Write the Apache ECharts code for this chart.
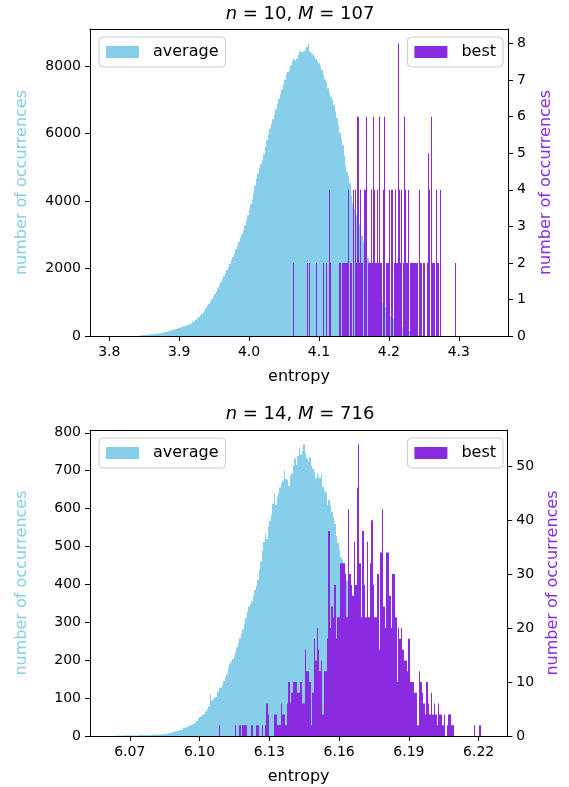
<!DOCTYPE html>
<html><head><meta charset="utf-8">
<script src="https://cdn.jsdelivr.net/npm/echarts@6/dist/echarts.min.js"></script>
<style>html,body{margin:0;padding:0;background:#fff}#c{width:569px;height:787px}</style>
</head><body><div id="c"></div>
<script>
const FONT = 'DejaVu Sans';
const SKY = '#87CEEB', VIOLET = '#8A2BE2';

// ---------- top panel (n = 10, M = 107) ----------
const topTitleN = '10', topTitleM = '107';
const topXTicks = [3.8, 3.9, 4.0, 4.1, 4.2, 4.3];
const topXRange = [3.7724, 4.3704];
const topLeftTicks = [0, 2000, 4000, 6000, 8000];
const topRightTicks = [0, 1, 2, 3, 4, 5, 6, 7, 8];
const avgTopStart = 3.84207, avgTopWidth = 0.0021234;
const avgTopCounts = [8,18,24,28,32,36,40,45,50,55,60,65,70,75,81,91,102,112,122,132,143,155,170,185,199,213,228,243,258,273,287,302,316,330,345,378,412,445,478,518,560,605,650,696,763,830,896,958,1027,1099,1172,1245,1320,1413,1506,1600,1690,1781,1870,1958,2046,2137,2241,2351,2462,2573,2683,2793,2904,3014,3130,3280,3430,3580,3730,3900,4050,4235,4450,4660,4820,4980,5090,5205,5385,5600,5800,5980,6150,6290,6420,6560,6715,6880,7030,7170,7300,7450,7590,7745,7820,7885,8020,8135,8198,8150,8220,8330,8445,8420,8400,8440,8480,8560,8663,8430,8380,8340,8280,8210,8140,8080,7990,7880,7730,7600,7500,7340,7200,7090,7000,6850,6650,6460,6240,6030,5840,5650,5340,5060,4860,4730,4530,4160,3930,3760,3580,3430,3310,3150,2970,2790,2610,2450,2320,2190,1980,1800,1690,1560,1430,1300,1170,1080,990,930,860,760,660,580,550,510,480,445,380,315,280,255,235,210,195,170,145,123,100,82,61,47,40,33,26,19,12,6];
const bestTopStart = 4.0629, bestTopWidth = 0.0014286;
const bestTopCounts = [
 2,0,0,0,0,0,0,0,0,0, 0,0,0,0,2,0,2,0,0,0, 0,0,0,2,0,0,0,0,0,0,
 2,0,0,2,0,0,4,2,0,0, 0,0,0,0,0,0,2,2,0,2, 2,2,2,2,2,4,0,2,2,0,
 4,0,4,2,6,6,2,4,2,2, 0,4,4,6,0,2,2,2,4,2, 6,4,2,2,4,2,6,2,2,0,
 4,6,0,2,2,2,4,0,4,4, 0,2,4,2,2,8,4,2,4,0, 2,6,4,2,2,4,0,2,2,2,
 2,2,2,2,2,0,4,2,2,0, 2,2,0,0,2,5,4,0,6,2, 2,2,0,4,2,2,0,4,0,0,
 0,0,0,0,0,0,0,0,0,0, 0,0,2];

// ---------- bottom panel (n = 14, M = 716) ----------
const botTitleN = '14', botTitleM = '716';
const botXTicks = [6.07, 6.10, 6.13, 6.16, 6.19, 6.22];
const botXRange = [6.0529, 6.2323];
const botLeftTicks = [0, 100, 200, 300, 400, 500, 600, 700, 800];
const botRightTicks = [0, 10, 20, 30, 40, 50];
const avgBotStart = 6.063648, avgBotWidth = 0.000637;
const avgBotCounts = [
 1,0,1,1,0,1,1,1,2,1, 2,1,2,2,1,2,2,3,2,2, 3,2,3,2,3,4,3,3,3,4,
 3,5,4,5,6,6,7,8,9,11, 12,12,13,14,16,18,21,21,24,25, 27,29,31,34,35,40,46,50,52,56,
 58,65,72,78,109,94,99,101,103,116, 128,127,134,145,155,162,180,191,197,203,
 210,222,234,246,258,270,282,297,312,327, 342,348,355,370,385,396,411,440,460,488,
 512,535,520,553,568,583,613,640,610,632, 642,656,666,674,700,678,676,660,686,692,
 715,732,715,738,760,743,752,769,748,733, 724,735,714,706,698,680,693,686,680,690,
 657,647,643,610,622,608,592,576,560,527, 510,490,472,465,457,430,410,394,380,362,
 345,328,313,298,283,272,260,247,235,223, 211,199,187,175,164,152,140,128,118,110,
 103,95,88,80,73,66,60,54,49,45, 40,35,32,29,26,24,21,18,16,14, 12,10,9,8,7,6,5,4,3,2,2,1];
const bestBotStart = 6.108238, bestBotWidth = 0.000637;
const bestBotCounts = [
 2,0,0,0,0,0,0,0,0,0, 0,2,0,0,2,0,2,2,2,0, 0,0,2,0,0,2,2,0,0,2,
 0,2,6,4,0,0,0,4,4,2, 2,2,6,4,4,2,6,10,6,8, 10,10,10,8,8,10,6,6,16,12,
 12,10,2,8,18,14,20,16,12,14, 4,12,12,18,38,20,24,22,28,18, 22,22,32,32,32,30,22,42,30,28,
 26,36,28,46,54,32,22,38,28,22, 36,22,32,40,28,22,22,30,16,34, 42,24,20,34,34,26,20,30,30,22,
 10,20,18,20,16,14,14,12,18,10, 10,10,8,8,2,12,10,8,6,4, 10,6,4,8,4,6,4,2,6,4,
 4,2,4,0,2,4,4,2,2,0, 0,0,0,0,0,0,0,0,0,0, 0,0,2,0,0,0,2];

// ---------- build ----------
function bins(start, width, counts) {
  return counts.map((c, i) => [start + i * width, start + (i + 1) * width, c]);
}
function histRender(params, api) {
  const y = api.value(2);
  if (!y) return null;
  const p0 = api.coord([api.value(0), y]);
  const p1 = api.coord([api.value(1), 0]);
  let l = Math.round(p0[0]), r = Math.round(p1[0]);
  if (r <= l) r = l + 1;
  return { type: 'rect', shape: { x: l, y: p0[1], width: r - l, height: p1[1] - p0[1] },
           style: { fill: api.visual('color') } };
}
const tickStyle = { show: true, length: 5, inside: false, lineStyle: { color: '#000', width: 1 } };
const lineStyle = { show: true, onZero: false, lineStyle: { color: '#000', width: 1 } };
const labelStyle = { color: '#000', fontFamily: FONT, fontSize: 14 };

function xAxes(grid, range, ticks, digits) {
  return [
    { type: 'value', gridIndex: grid, position: 'bottom', min: range[0], max: range[1], z: 10,
      axisLine: lineStyle, axisTick: Object.assign({ customValues: ticks }, tickStyle),
      axisLabel: Object.assign({ customValues: ticks, margin: 9, formatter: v => v.toFixed(digits) }, labelStyle),
      splitLine: { show: false },
      name: 'entropy', nameLocation: 'middle', nameGap: 33,
      nameTextStyle: { color: '#000', fontFamily: FONT, fontSize: 16 } },
    { type: 'value', gridIndex: grid, position: 'top', min: range[0], max: range[1], z: 10,
      axisLine: lineStyle, axisTick: { show: false }, axisLabel: { show: false }, splitLine: { show: false } }
  ];
}
function yAxes(grid, lmax, lticks, rmax, rticks) {
  return [
    { type: 'value', gridIndex: grid, position: 'left', min: 0, max: lmax, z: 10,
      axisLine: lineStyle, axisTick: Object.assign({ customValues: lticks }, tickStyle),
      axisLabel: Object.assign({ customValues: lticks, margin: 9, formatter: v => String(v) }, labelStyle),
      splitLine: { show: false },
      name: 'number of occurrences', nameLocation: 'middle', nameGap: 60, nameRotate: 90,
      nameTextStyle: { color: SKY, fontFamily: FONT, fontSize: 16 } },
    { type: 'value', gridIndex: grid, position: 'right', min: 0, max: rmax, z: 10,
      axisLine: lineStyle, axisTick: Object.assign({ customValues: rticks }, tickStyle),
      axisLabel: Object.assign({ customValues: rticks, margin: 9, formatter: v => String(v) }, labelStyle),
      splitLine: { show: false },
      name: 'number of occurrences', nameLocation: 'middle', nameGap: 30, nameRotate: 90,
      nameTextStyle: { color: VIOLET, fontFamily: FONT, fontSize: 16 } }
  ];
}
const legendBase = {
  orient: 'horizontal', icon: 'rect', itemWidth: 33, itemHeight: 12, selectedMode: false,
  padding: [7, 7, 7, 7], backgroundColor: 'rgba(255,255,255,0.8)', borderColor: '#cccccc',
  borderWidth: 1, borderRadius: 4, z: 20,
  textStyle: { color: '#000', fontFamily: FONT, fontSize: 16, padding: [0, 0, 0, 9] }
};
function title(n, M, y) {
  return { type: 'text', x: 300, y: y, z: 30,
    style: { text: '{i|n} = ' + n + ', {i|M} = ' + M, fontFamily: FONT, fontSize: 18, fill: '#000',
      align: 'center', verticalAlign: 'middle',
      rich: { i: { fontStyle: 'italic', fontFamily: FONT, fontSize: 18, fill: '#000' } } } };
}
const maxOf = a => Math.max.apply(null, a) * 1.05;

const chart = echarts.init(document.getElementById('c'), null, { renderer: 'canvas' });
chart.setOption({
  animation: false,
  backgroundColor: '#fff',
  grid: [
    { left: 90, right: 61, top: 29, height: 307 },
    { left: 90, right: 61, top: 430, height: 306 }
  ],
  xAxis: [].concat(xAxes(0, topXRange, topXTicks, 1), xAxes(1, botXRange, botXTicks, 2)),
  yAxis: [].concat(
    yAxes(0, maxOf(avgTopCounts), topLeftTicks, maxOf(bestTopCounts), topRightTicks),
    yAxes(1, maxOf(avgBotCounts), botLeftTicks, maxOf(bestBotCounts), botRightTicks)),
  legend: [
    Object.assign({ data: ['average'], left: 99, top: 37 }, legendBase),
    Object.assign({ data: ['best'], right: 66, top: 37 }, legendBase),
    Object.assign({ data: ['average'], left: 99, top: 438 }, legendBase),
    Object.assign({ data: ['best'], right: 66, top: 438 }, legendBase)
  ],
  graphic: [title(topTitleN, topTitleM, 14), title(botTitleN, botTitleM, 414)],
  series: [
    { type: 'custom', name: 'average', xAxisIndex: 0, yAxisIndex: 0, z: 2, itemStyle: { color: SKY },
      renderItem: histRender, encode: { x: [0, 1], y: 2 }, data: bins(avgTopStart, avgTopWidth, avgTopCounts) },
    { type: 'custom', name: 'best', xAxisIndex: 0, yAxisIndex: 1, z: 3, itemStyle: { color: VIOLET },
      renderItem: histRender, encode: { x: [0, 1], y: 2 }, data: bins(bestTopStart, bestTopWidth, bestTopCounts) },
    { type: 'custom', name: 'average', xAxisIndex: 2, yAxisIndex: 2, z: 2, itemStyle: { color: SKY },
      renderItem: histRender, encode: { x: [0, 1], y: 2 }, data: bins(avgBotStart, avgBotWidth, avgBotCounts) },
    { type: 'custom', name: 'best', xAxisIndex: 2, yAxisIndex: 3, z: 3, itemStyle: { color: VIOLET },
      renderItem: histRender, encode: { x: [0, 1], y: 2 }, data: bins(bestBotStart, bestBotWidth, bestBotCounts) }
  ]
});
</script></body></html>
